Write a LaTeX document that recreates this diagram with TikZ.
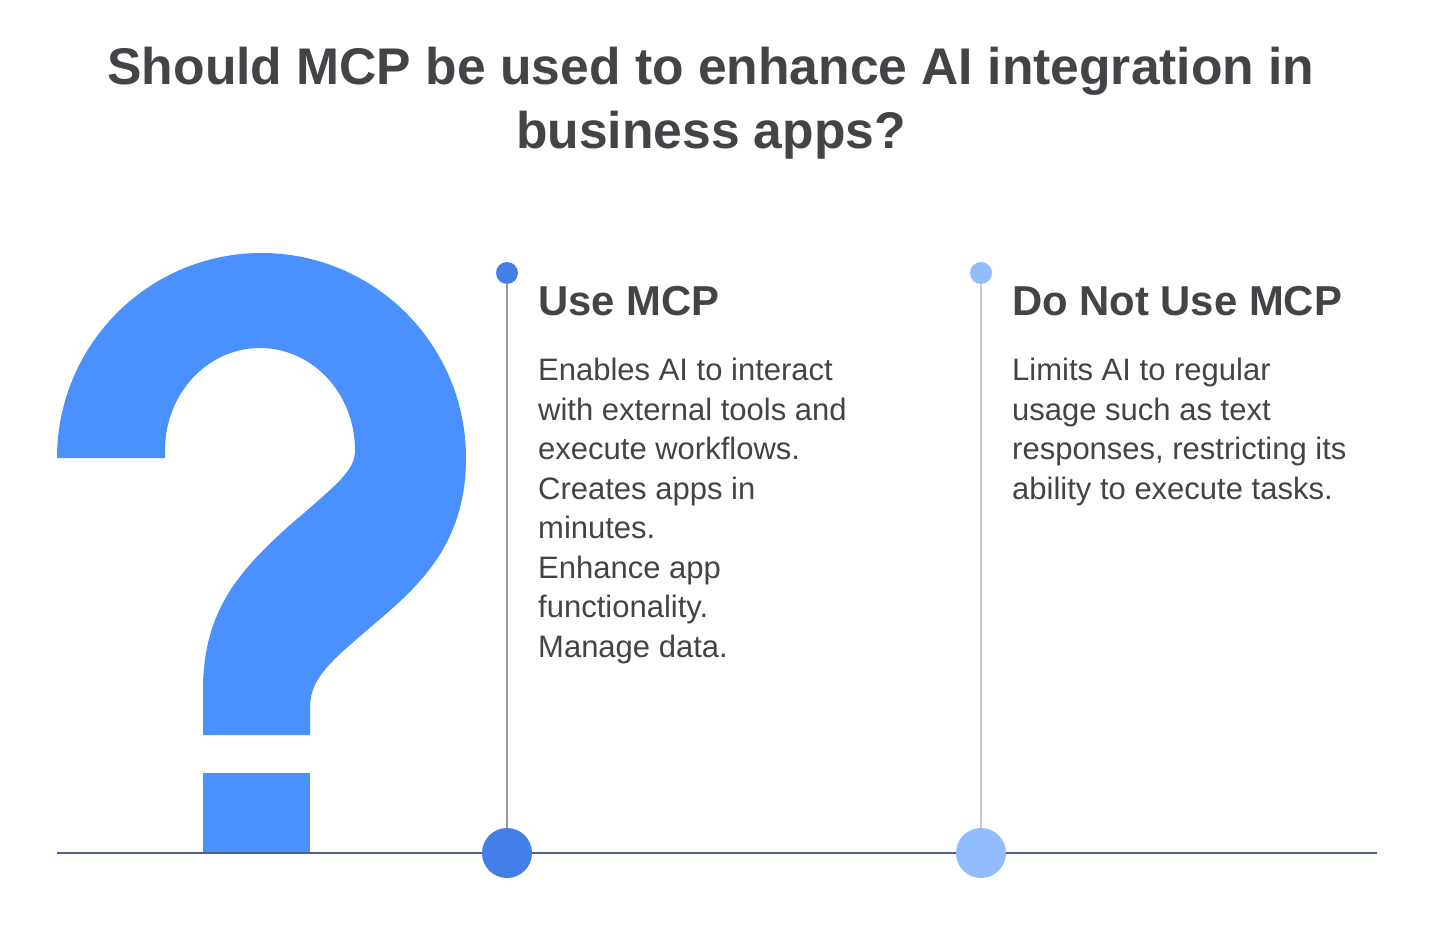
\documentclass[tikz,border=0pt]{standalone}
\usepackage{fontspec}
\setmainfont{Liberation Sans}
\definecolor{qblue}{RGB}{74,144,255}
\definecolor{dotA}{RGB}{66,128,232}
\definecolor{dotB}{RGB}{145,188,255}
\definecolor{txt}{RGB}{68,68,72}
\definecolor{axis}{RGB}{80,96,140}
\begin{document}
\begin{tikzpicture}[x=1pt,y=-1pt,
  head/.style={anchor=base west,font=\fontsize{41.8}{48}\selectfont\bfseries,text=txt,inner sep=0},
  body/.style={anchor=north west,align=left,font=\fontsize{31}{39.5}\selectfont,text=txt,inner sep=0}]
\useasboundingbox[fill=white] (0,0) rectangle (1436,928);
\node[font=\fontsize{51.6}{64}\selectfont\bfseries,text=txt,align=center] (title) at (711,103) {Should MCP be used to enhance AI integration in\\business apps?};
% question mark
\fill[qblue] (57,458) arc[start angle=180,end angle=360,x radius=204.5,y radius=205]
  .. controls (466,560) and (400,600) .. (350,645) .. controls (315,675) and (310,690) .. (310,710)
  -- (310,735) -- (203,735) -- (203,690) .. controls (203,610) and (240,570) .. (290,525)
  .. controls (340,482) and (355,470) .. (355,450)
  arc[start angle=0,end angle=-180,x radius=95,y radius=102] -- (165,458) -- cycle;
\fill[qblue] (203,773) rectangle (310,853);
\coordinate (l0) at (57,853); \coordinate (l1) at (1377,853);
\draw[axis,line width=1.5pt] (l0) -- (l1);
\node[circle,fill=dotA,minimum size=22pt,inner sep=0] (ta) at (507,273) {};
\node[circle,fill=dotA,minimum size=50pt,inner sep=0] (ba) at (507,853) {};
\node[circle,fill=dotB,minimum size=22pt,inner sep=0] (tb) at (981,273) {};
\node[circle,fill=dotB,minimum size=50pt,inner sep=0] (bb) at (981,853) {};
\draw[gray!80,line width=1.5pt] (ta) -- (ba);
\draw[gray!40,line width=1.5pt] (tb) -- (bb);
\node[head] (h1) at (538,316) {Use MCP};
\node[head] (h2) at (1012,316) {Do Not Use MCP};
\node[body] (b1) at (538,358) {Enables AI to interact\\with external tools and\\execute workflows.\\Creates apps in\\minutes.\\Enhance app\\functionality.\\Manage data.};
\node[body] (b2) at (1012,358) {Limits AI to regular\\usage such as text\\responses, restricting its\\ability to execute tasks.};
\end{tikzpicture}
\end{document}
